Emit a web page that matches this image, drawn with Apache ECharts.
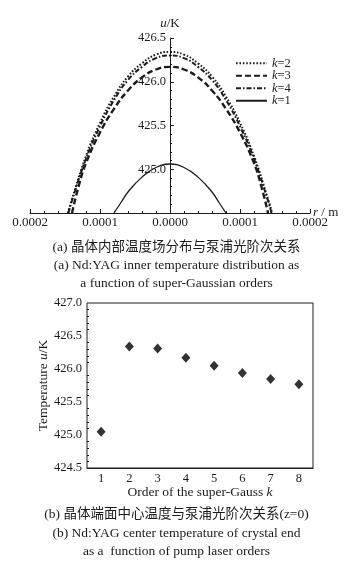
<!DOCTYPE html>
<html lang="zh">
<head>
<meta charset="UTF-8">
<title>Nd:YAG temperature vs super-Gaussian order</title>
<script src="https://cdn.jsdelivr.net/npm/echarts@6/dist/echarts.min.js"></script>
<style>
  html, body { margin: 0; padding: 0; background: #fff; }
</style>
</head>
<body>
<div id="main" style="width: 353px; height: 566px;"></div>
<script>
// (a) radial temperature profiles, r in metres, u in K
var rK2 = [-0.000146, -0.000140, -0.000120, -0.000100, -0.000080, -0.000060, -0.000040, -0.000020, 0,
           0.000020, 0.000040, 0.000060, 0.000080, 0.000100, 0.000120, 0.000140, 0.000146];
var uK2 = [424.50, 424.66, 425.15, 425.53, 425.83, 426.06, 426.21, 426.31, 426.34,
           426.31, 426.21, 426.06, 425.83, 425.53, 425.15, 424.66, 424.50];

var rK4 = [-0.000145, -0.000140, -0.000120, -0.000100, -0.000080, -0.000060, -0.000040, -0.000020, 0,
           0.000020, 0.000040, 0.000060, 0.000080, 0.000100, 0.000120, 0.000140, 0.000145];
var uK4 = [424.50, 424.64, 425.12, 425.49, 425.79, 426.02, 426.17, 426.27, 426.30,
           426.27, 426.17, 426.02, 425.79, 425.49, 425.12, 424.64, 424.50];

var rK3 = [-0.000140, -0.000130, -0.000120, -0.000100, -0.000080, -0.000060, -0.000040, -0.000020, 0,
           0.000020, 0.000040, 0.000060, 0.000080, 0.000100, 0.000120, 0.000130, 0.000140];
var uK3 = [424.50, 424.82, 425.07, 425.42, 425.69, 425.90, 426.05, 426.14, 426.17,
           426.14, 426.05, 425.90, 425.69, 425.42, 425.07, 424.82, 424.50];

var rK1 = [-0.000080, -0.000070, -0.000060, -0.000040, -0.000020, 0,
           0.000020, 0.000040, 0.000060, 0.000070, 0.000080];
var uK1 = [424.50, 424.62, 424.74, 424.91, 425.02, 425.06,
           425.02, 424.91, 424.74, 424.62, 424.50];

// (b) centre temperature vs order k
var orders = ['1', '2', '3', '4', '5', '6', '7', '8'];
var centerTemp = [425.05, 426.34, 426.31, 426.17, 426.05, 425.94, 425.85, 425.77];

var legendOrder = ['k=2', 'k=3', 'k=4', 'k=1'];

var serif = "'Liberation Serif', 'Times New Roman', 'Noto Sans CJK SC', serif";
var ink = '#1c1c1c';

function pairs(xs, ys) {
  return xs.map(function (x, i) { return [x, ys[i]]; });
}

function italic(size) {
  return { i: { fontStyle: 'italic', fontFamily: serif, fontSize: size, color: ink } };
}

var chart = echarts.init(document.getElementById('main'));

var option = {
  animation: false,
  backgroundColor: '#fff',
  textStyle: { fontFamily: serif, color: ink },
  title: [
    { text: '(a) 晶体内部温度场分布与泵浦光阶次关系', left: 'center', top: 241 },
    { text: '(a) Nd:YAG inner temperature distribution as', left: 'center', top: 259 },
    { text: 'a function of super-Gaussian orders', left: 'center', top: 276.5 },
    { text: '(b) 晶体端面中心温度与泵浦光阶次关系(z=0)', left: 'center', top: 508 },
    { text: '(b) Nd:YAG center temperature of crystal end', left: 'center', top: 527 },
    { text: 'as a  function of pump laser orders', left: 'center', top: 545 }
  ].map(function (t) {
    t.padding = 0;
    t.textStyle = { fontFamily: serif, fontSize: 13.5, fontWeight: 'normal', color: ink };
    return t;
  }),
  legend: {
    data: legendOrder,
    orient: 'vertical',
    left: 235,
    top: 57,
    itemWidth: 31,
    itemHeight: 8,
    itemGap: 0,
    padding: 0,
    itemStyle: { opacity: 0 },
    lineStyle: { width: 2 },
    formatter: function (name) { return '{i|k}=' + name.split('=')[1]; },
    textStyle: {
      fontFamily: serif, fontSize: 12.5, color: ink, lineHeight: 10,
      rich: { i: { fontStyle: 'italic', fontFamily: serif, fontSize: 12.5, color: ink, lineHeight: 10 } }
    }
  },
  grid: [
    { left: 30, right: 43, top: 38, height: 175 },
    { left: 87, right: 40, top: 303, height: 165, show: true, borderColor: ink, borderWidth: 1 }
  ],
  xAxis: [
    {
      type: 'value', gridIndex: 0,
      min: -0.0002, max: 0.0002, interval: 0.0001,
      name: '{i|r} / m', nameLocation: 'end', nameGap: 3, nameMoveOverlap: false,
      nameTextStyle: { fontFamily: serif, fontSize: 13, color: ink, rich: italic(13) },
      axisLine: { onZero: false, lineStyle: { color: ink, width: 1 } },
      axisTick: { inside: true, length: 4, lineStyle: { color: ink } },
      minorTick: { show: true, splitNumber: 5, length: 2, lineStyle: { color: ink } },
      splitLine: { show: false },
      axisLabel: {
        fontFamily: serif, fontSize: 13, color: ink, margin: 3,
        formatter: function (v) { return Math.abs(v).toFixed(4); }
      }
    },
    {
      type: 'category', gridIndex: 1, position: 'bottom',
      data: orders, boundaryGap: true,
      name: 'Order of the super-Gauss {i|k}', nameLocation: 'middle', nameGap: 18,
      nameMoveOverlap: false,
      nameTextStyle: { fontFamily: serif, fontSize: 13.5, color: ink, rich: italic(13.5) },
      axisLine: { lineStyle: { color: ink } },
      axisTick: { alignWithLabel: true, inside: true, length: 4, lineStyle: { color: ink } },
      splitLine: { show: false },
      axisLabel: { fontFamily: serif, fontSize: 12.5, color: ink, margin: 4 }
    },
    {
      type: 'category', gridIndex: 1, position: 'bottom',
      data: orders, boundaryGap: true,
      axisLine: { show: false },
      axisTick: { inside: true, length: 2, lineStyle: { color: ink } },
      axisLabel: { show: false },
      splitLine: { show: false }
    }
  ],
  yAxis: [
    {
      type: 'value', gridIndex: 0,
      min: 424.5, max: 426.5, interval: 0.5,
      position: 'left', offset: -140,
      name: '{i|u}/K', nameLocation: 'end', nameGap: 8, nameMoveOverlap: false,
      nameTextStyle: { fontFamily: serif, fontSize: 13, color: ink, rich: italic(13) },
      axisLine: { onZero: false, lineStyle: { color: ink } },
      axisTick: { inside: true, length: 4, lineStyle: { color: ink } },
      minorTick: { show: true, splitNumber: 5, length: 2, lineStyle: { color: ink } },
      splitLine: { show: false },
      axisLabel: {
        showMinLabel: false, fontFamily: serif, fontSize: 12.5, color: ink, margin: 4,
        formatter: function (v) { return v.toFixed(1); }
      }
    },
    {
      type: 'value', gridIndex: 1,
      min: 424.5, max: 427.0, interval: 0.5,
      name: 'Temperature {i|u}/K', nameLocation: 'middle', nameGap: 37, nameMoveOverlap: false,
      nameTextStyle: { fontFamily: serif, fontSize: 13.5, color: ink, rich: italic(13.5) },
      axisLine: { lineStyle: { color: ink } },
      axisTick: { inside: true, length: 4, lineStyle: { color: ink } },
      minorTick: { show: true, splitNumber: 5, length: 2, lineStyle: { color: ink } },
      splitLine: { show: false },
      axisLabel: {
        fontFamily: serif, fontSize: 12.5, color: ink, margin: 5,
        formatter: function (v) { return v.toFixed(1); }
      }
    }
  ],
  series: [
    {
      name: 'k=2', type: 'line', xAxisIndex: 0, yAxisIndex: 0,
      data: pairs(rK2, uK2), smooth: true, symbol: 'none', clip: true,
      lineStyle: { color: ink, width: 2, type: [1.6, 1.8] }, itemStyle: { color: ink }
    },
    {
      name: 'k=3', type: 'line', xAxisIndex: 0, yAxisIndex: 0,
      data: pairs(rK3, uK3), smooth: true, symbol: 'none', clip: true,
      lineStyle: { color: ink, width: 2.4, type: [6, 3] }, itemStyle: { color: ink }
    },
    {
      name: 'k=4', type: 'line', xAxisIndex: 0, yAxisIndex: 0,
      data: pairs(rK4, uK4), smooth: true, symbol: 'none', clip: true,
      lineStyle: { color: ink, width: 2, type: [5, 2, 1.5, 2] }, itemStyle: { color: ink }
    },
    {
      name: 'k=1', type: 'line', xAxisIndex: 0, yAxisIndex: 0,
      data: pairs(rK1, uK1), smooth: true, symbol: 'none', clip: true,
      lineStyle: { color: ink, width: 1.3, type: 'solid' }, itemStyle: { color: ink }
    },
    {
      name: 'center', type: 'scatter', xAxisIndex: 1, yAxisIndex: 1,
      data: centerTemp, symbol: 'diamond', symbolSize: [9, 10],
      itemStyle: { color: '#000' }
    }
  ]
};

chart.setOption(option);
</script>
</body>
</html>
